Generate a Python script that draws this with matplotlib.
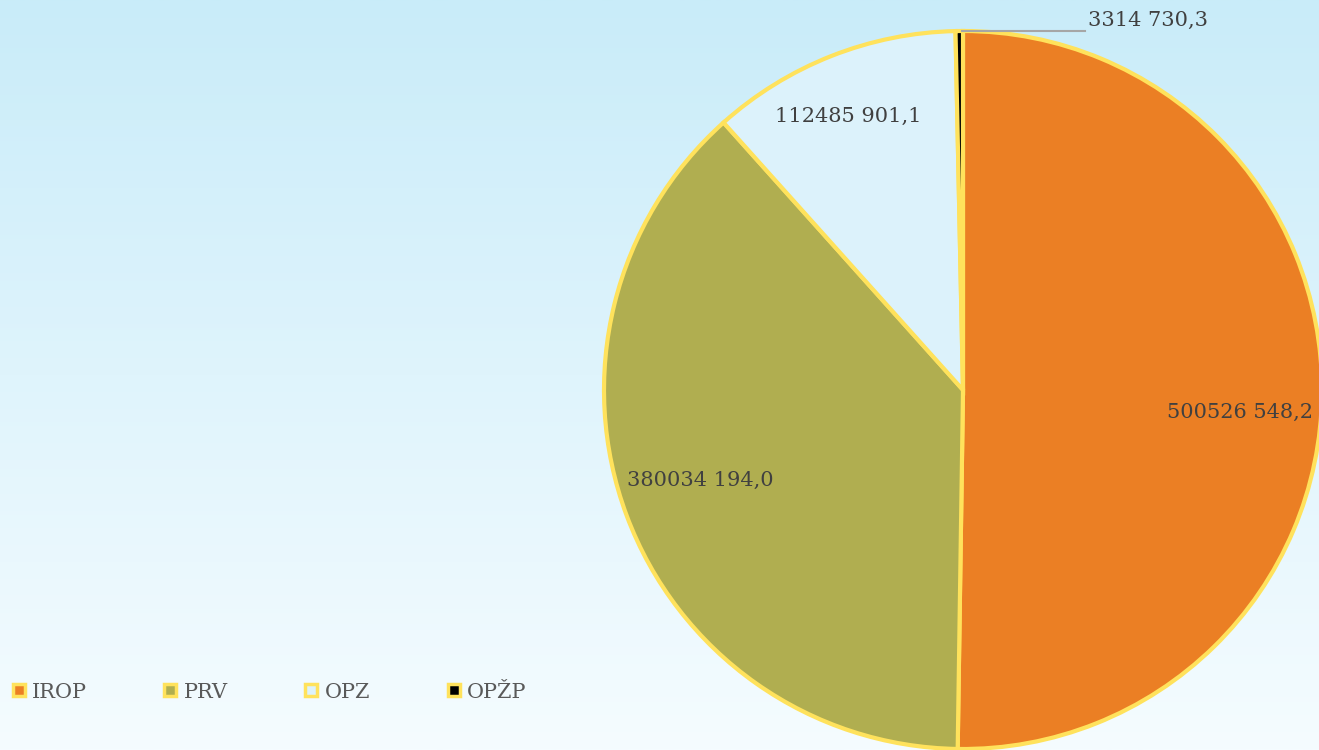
import numpy as np
import matplotlib.pyplot as plt
from matplotlib.lines import Line2D

# data
names = ['IROP', 'PRV', 'OPZ', 'OPŽP']
values = [500526548.2, 380034194.0, 112485901.1, 3314730.3]
value_labels = ['500526 548,2', '380034 194,0', '112485 901,1', '3314 730,3']
colors = ['#EB7F24', '#B0AE50', '#DCF2FB', '#000000']
edge = '#FFE25C'

W, H = 1319, 750
plt.rcParams['font.family'] = ['DejaVu Serif']

fig = plt.figure(figsize=(W / 100, H / 100), dpi=100)

# background gradient
bg = fig.add_axes([0, 0, 1, 1], zorder=0)
grad = np.linspace(0, 1, 256).reshape(-1, 1)
top = np.array([0xC9, 0xEC, 0xF9]) / 255
bot = np.array([0xF5, 0xFC, 0xFF]) / 255
img = top + (bot - top) * grad[:, :, None]
bg.imshow(img, aspect='auto', extent=[0, 1, 0, 1], origin='upper')
bg.axis('off')

ax = fig.add_axes([0, 0, 1, 1], zorder=1)
ax.patch.set_alpha(0)
cx, cy, r = 963, H - 390, 359
wedges, _ = ax.pie(values, colors=colors, startangle=90, counterclock=False,
                   center=(cx, cy), radius=r,
                   wedgeprops=dict(edgecolor=edge, linewidth=3))
for w in wedges:
    w.set_clip_on(False)
ax.set_xlim(0, W)
ax.set_ylim(0, H)
ax.set_aspect('equal')
ax.axis('off')

txt = dict(fontsize=15, color='#404040', va='center')
ax.text(1240, H - 412, value_labels[0], ha='center', **txt)
ax.text(700, H - 480, value_labels[1], ha='center', **txt)
ax.text(848, H - 116, value_labels[2], ha='center', **txt)
ax.text(1088, H - 20, value_labels[3], ha='left', **txt)
ax.plot([962, 1085], [H - 31, H - 31], color='#A6A6A6', lw=1.5, clip_on=False)

handles = [Line2D([], [], marker='s', ls='none', markersize=9,
                  markerfacecolor=c, markeredgecolor=edge, markeredgewidth=2.5)
           for c in colors]
leg = fig.legend(handles, names, ncol=4, loc='center left',
                 bbox_to_anchor=(5 / W, 1 - 692 / H), frameon=False,
                 fontsize=15, columnspacing=3.65, handlelength=0.7,
                 handletextpad=0.3, borderaxespad=0, borderpad=0.3)
for t in leg.get_texts():
    t.set_color('#595959')

fig.savefig('out.png', dpi=100)
